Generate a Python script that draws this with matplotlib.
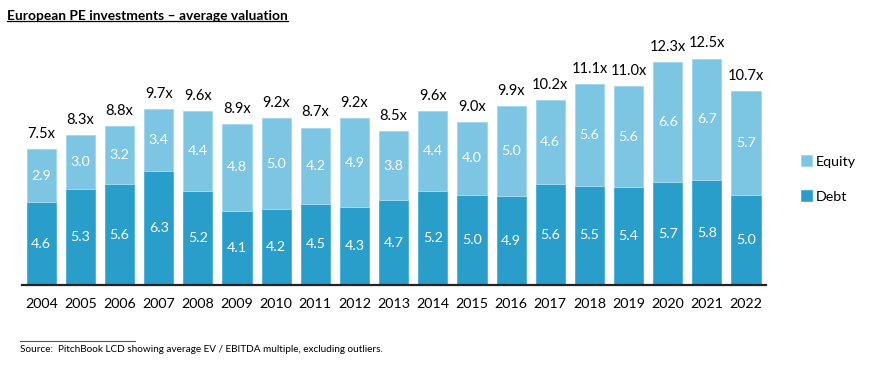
import numpy as np
import matplotlib.pyplot as plt
from matplotlib import rcParams
from matplotlib.lines import Line2D

rcParams['font.family'] = ['Lato', 'DejaVu Sans']
rcParams['font.size'] = 10

years = ['2004', '2005', '2006', '2007', '2008', '2009', '2010', '2011', '2012',
         '2013', '2014', '2015', '2016', '2017', '2018', '2019', '2020', '2021',
         '2022']
debt = [4.6, 5.3, 5.6, 6.3, 5.2, 4.1, 4.2, 4.5, 4.3, 4.7, 5.2, 5.0, 4.9, 5.6,
        5.5, 5.4, 5.7, 5.8, 5.0]
equity = [2.9, 3.0, 3.2, 3.4, 4.4, 4.8, 5.0, 4.2, 4.9, 3.8, 4.4, 4.0, 5.0, 4.6,
          5.6, 5.6, 6.6, 6.7, 5.7]
totals = [7.5, 8.3, 8.8, 9.7, 9.6, 8.9, 9.2, 8.7, 9.2, 8.5, 9.6, 9.0, 9.9,
          10.2, 11.1, 11.0, 12.3, 12.5, 10.7]

debt_col = '#2A9ECB'
equity_col = '#7CC5E3'

W, H = 869, 370
fig = plt.figure(figsize=(W / 100, H / 100), dpi=100)
ax = fig.add_axes([21.7 / W, 84.7 / H, 743.9 / W, 244.8 / H])

x = np.arange(len(years))
ax.bar(x, debt, width=0.745, color=debt_col, edgecolor='#4FB3D8',
       linewidth=0.7, label='Debt')
ax.bar(x, equity, width=0.745, bottom=debt, color=equity_col,
       edgecolor='#A4D8EE', linewidth=0.7, label='Equity')

for i in range(len(years)):
    ax.text(x[i], debt[i] / 2, '%.1f' % debt[i], ha='center', va='center',
            color='white', fontsize=10.3)
    ax.text(x[i], debt[i] + equity[i] / 2, '%.1f' % equity[i], ha='center',
            va='center', color='white', fontsize=10.3)
    ax.text(x[i], totals[i] + 0.45, '%.1fx' % totals[i], ha='center',
            va='bottom', color='black', fontsize=10.5)

ax.set_xlim(-0.5, 18.5)
ax.set_ylim(0, 13.5)
ax.set_xticks(x)
ax.set_xticklabels(years, fontsize=10.3)
ax.tick_params(axis='x', length=0, pad=9)
ax.set_yticks([])
for s in ['top', 'right', 'left']:
    ax.spines[s].set_visible(False)
ax.spines['bottom'].set_linewidth(1.6)
ax.spines['bottom'].set_color('#222222')

# legend (equity on top)
handles, labels = ax.get_legend_handles_labels()
leg = fig.legend(handles[::-1], labels[::-1], loc='center left',
                 bbox_to_anchor=(788 / W, 1 - 179 / H), frameon=False,
                 fontsize=10.3, handlelength=0.75, handleheight=0.75,
                 handletextpad=0.3, labelspacing=1.6)

# title with underline
title = fig.text(7 / W, 1 - 16 / H, 'European PE investments \u2013 average valuation',
                 fontsize=9.9, fontweight='bold', ha='left', va='center')
fig.canvas.draw()
bb = title.get_window_extent().transformed(fig.transFigure.inverted())
fig.add_artist(Line2D([bb.x0, bb.x1], [bb.y0 + 0.002, bb.y0 + 0.002],
                      transform=fig.transFigure, color='black', linewidth=0.9))

# source note
fig.add_artist(Line2D([20 / W, 135 / W], [1 - 341 / H, 1 - 341 / H],
                      transform=fig.transFigure, color='#555555', linewidth=0.8))
fig.text(20 / W, 1 - 349 / H,
         'Source:  PitchBook LCD showing average EV / EBITDA multiple, excluding outliers.',
         fontsize=7.2, ha='left', va='center')

fig.savefig('out.png', dpi=100)
